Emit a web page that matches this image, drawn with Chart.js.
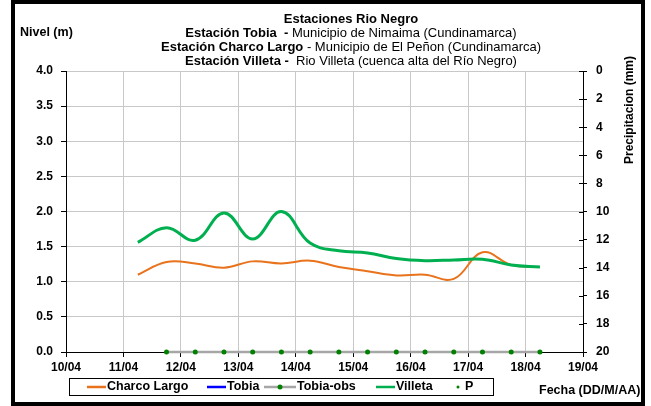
<!DOCTYPE html>
<html>
<head>
<meta charset="utf-8">
<script src="https://cdn.jsdelivr.net/npm/chart.js@4/dist/chart.umd.min.js"></script>
<style>
html,body{margin:0;padding:0;background:#fff;}
#wrap{position:relative;width:651px;height:406px;}
</style>
</head>
<body>
<div id="wrap"><canvas id="c" width="651" height="406"></canvas></div>
<script>
// ---- data ----
const seriesTimes = [11.25, 11.75, 12.25, 12.75, 13.25, 13.75, 14.25, 14.75, 15.25, 15.75, 16.25, 16.75, 17.25, 17.75, 18.25];
const charcoLargo = [1.10, 1.28, 1.26, 1.20, 1.29, 1.26, 1.30, 1.21, 1.15, 1.09, 1.10, 1.04, 1.42, 1.24, 1.21];
const villeta     = [1.56, 1.77, 1.59, 1.98, 1.61, 2.00, 1.55, 1.44, 1.41, 1.33, 1.30, 1.31, 1.32, 1.24, 1.21];
const tobia       = [];
const obsTimes    = [11.75, 12.25, 12.75, 13.25, 13.75, 14.25, 14.75, 15.25, 15.75, 16.25, 16.75, 17.25, 17.75, 18.25];
const tobiaObs    = [0, 0, 0, 0, 0, 0, 0, 0, 0, 0, 0, 0, 0, 0];
const precip      = [];
const dayTicks    = [10, 11, 12, 13, 14, 15, 16, 17, 18, 19];
const monthLabel  = '04';
const titleLines = [
  [['b','Estaciones Rio Negro']],
  [['b','Estación Tobia  - '],['n','Municipio de Nimaima (Cundinamarca)']],
  [['b','Estación Charco Largo'],['n',' - Municipio de El Peñon (Cundinamarca)']],
  [['b','Estación Villeta - '],['n',' Rio Villeta (cuenca alta del Río Negro)']]
];

const FONT = "'Liberation Sans', Arial, sans-serif";
const pts = (xs, ys) => xs.map((x, i) => ({x: x, y: ys[i]}));

const deco = {
  id: 'deco',
  afterDraw(chart) {
    const ctx = chart.ctx;
    const area = chart.chartArea;
    ctx.save();
    ctx.fillStyle = '#000';
    ctx.textBaseline = 'middle';
    // titles
    const cx = 351, y0 = 19, dy = 14;
    titleLines.forEach((segs, li) => {
      let total = 0;
      segs.forEach(s => { ctx.font = (s[0]==='b'?'bold ':'') + '13px ' + FONT; total += ctx.measureText(s[1]).width; });
      let x = cx - total/2;
      ctx.textAlign = 'left';
      segs.forEach(s => {
        ctx.font = (s[0]==='b'?'bold ':'') + '13px ' + FONT;
        ctx.fillText(s[1], x, y0 + li*dy);
        x += ctx.measureText(s[1]).width;
      });
    });
    // axis titles
    ctx.font = 'bold 12.5px ' + FONT;
    ctx.textAlign = 'left';
    ctx.fillText('Nivel (m)', 20, 33);
    ctx.fillText('Fecha (DD/M/AA)', 539, 391);
    ctx.save();
    ctx.translate(630, 110);
    ctx.rotate(-Math.PI/2);
    ctx.textAlign = 'center';
    ctx.font = 'bold 12px ' + FONT;
    ctx.fillText('Precipitacion (mm)', 0, 0);
    ctx.restore();
    // right axis inner tick parts
    const y2 = chart.scales.y2;
    ctx.strokeStyle = '#000';
    ctx.lineWidth = 1;
    y2.ticks.forEach(t => {
      const yy = Math.round(y2.getPixelForValue(t.value)) + 0.5;
      ctx.beginPath();
      ctx.moveTo(area.right - 4, yy);
      ctx.lineTo(area.right, yy);
      ctx.stroke();
    });
    // legend box
    ctx.strokeStyle = '#000';
    ctx.lineWidth = 1;
    ctx.strokeRect(69.5, 378.5, 424, 17);
    const legX = [87, 207, 264, 376, 452];
    const symW = [19, 19, 32, 19, 12];
    const ly = 387;
    ctx.font = 'bold 12.5px ' + FONT;
    ctx.textAlign = 'left';
    chart.data.datasets.forEach((ds, i) => {
      const x = legX[i], w = symW[i];
      if (ds.showLine !== false) {
        ctx.strokeStyle = ds.borderColor;
        ctx.lineWidth = 2.5;
        ctx.beginPath(); ctx.moveTo(x, ly); ctx.lineTo(x + w, ly); ctx.stroke();
      }
      if (ds.pointRadius > 0) {
        ctx.fillStyle = ds.pointBackgroundColor;
        ctx.beginPath(); ctx.arc(x + w/2, ly, ds.pointRadius, 0, Math.PI*2); ctx.fill();
      }
      ctx.fillStyle = '#000';
      ctx.fillText(ds.label, x + w + 1, ly);
    });
    // outer frame
    ctx.strokeStyle = '#000';
    ctx.lineWidth = 4;
    ctx.strokeRect(13, 2, 630, 402);
    ctx.restore();
  }
};

const gridGray = '#C8C8C8';
new Chart(document.getElementById('c'), {
  type: 'line',
  data: {
    datasets: [
      {label: 'Charco Largo', data: pts(seriesTimes, charcoLargo), borderColor: '#E8731C', backgroundColor: '#E8731C', borderWidth: 2, pointRadius: 0, tension: 0.4, yAxisID: 'y', order: 3},
      {label: 'Tobia', data: pts([], tobia), borderColor: '#0000FF', backgroundColor: '#0000FF', borderWidth: 2, pointRadius: 0, yAxisID: 'y', order: 4},
      {label: 'Tobia-obs', data: pts(obsTimes, tobiaObs), borderColor: '#A6A6A6', backgroundColor: '#008000', pointBackgroundColor: '#008000', pointBorderColor: '#008000', pointBorderWidth: 0, pointRadius: 2.5, borderWidth: 2.5, tension: 0, yAxisID: 'y', order: 1, clip: 6},
      {label: 'Villeta', data: pts(seriesTimes, villeta), borderColor: '#00B050', backgroundColor: '#00B050', borderWidth: 3, pointRadius: 0, tension: 0.4, yAxisID: 'y', order: 2},
      {label: 'P', data: pts([], precip), showLine: false, borderColor: '#008000', backgroundColor: '#008000', pointBackgroundColor: '#008000', pointRadius: 1.5, yAxisID: 'y2', order: 5}
    ]
  },
  options: {
    responsive: false,
    animation: false,
    layout: {padding: {top: 71, left: 0, right: 0, bottom: 0}},
    plugins: {legend: {display: false}, title: {display: false}, tooltip: {enabled: false}},
    scales: {
      x: {
        type: 'linear', min: 10, max: 19,
        afterBuildTicks: s => { s.ticks = dayTicks.map(v => ({value: v})); },
        afterFit: s => { s.height = 54; },
        ticks: {font: {family: FONT, size: 12, weight: 'bold'}, color: '#000', padding: 3, maxRotation: 0,
          callback: v => String(v).padStart(2, '0') + '/' + monthLabel},
        grid: {color: c => (c.tick && (c.tick.value === 10 || c.tick.value === 19)) ? 'rgba(0,0,0,0)' : gridGray, tickColor: '#000', tickLength: 5, lineWidth: 1},
        border: {color: '#000', width: 1}
      },
      y: {
        position: 'left', min: 0, max: 4,
        afterFit: s => { s.width = 66; },
        ticks: {stepSize: 0.5, font: {family: FONT, size: 12, weight: 'bold'}, color: '#000', padding: 8,
          callback: v => Number(v).toFixed(1)},
        grid: {color: c => (c.tick && c.tick.value === 0) ? 'rgba(0,0,0,0)' : gridGray, tickColor: '#000', tickLength: 5, lineWidth: 1},
        border: {color: '#000', width: 1}
      },
      y2: {
        position: 'right', min: 0, max: 20, reverse: true,
        afterFit: s => { s.width = 68; },
        ticks: {stepSize: 2, font: {family: FONT, size: 12, weight: 'bold'}, color: '#000', padding: 9},
        grid: {drawOnChartArea: false, tickColor: '#000', tickLength: 4},
        border: {color: '#000', width: 1}
      }
    }
  },
  plugins: [deco]
});
</script>
</body>
</html>
